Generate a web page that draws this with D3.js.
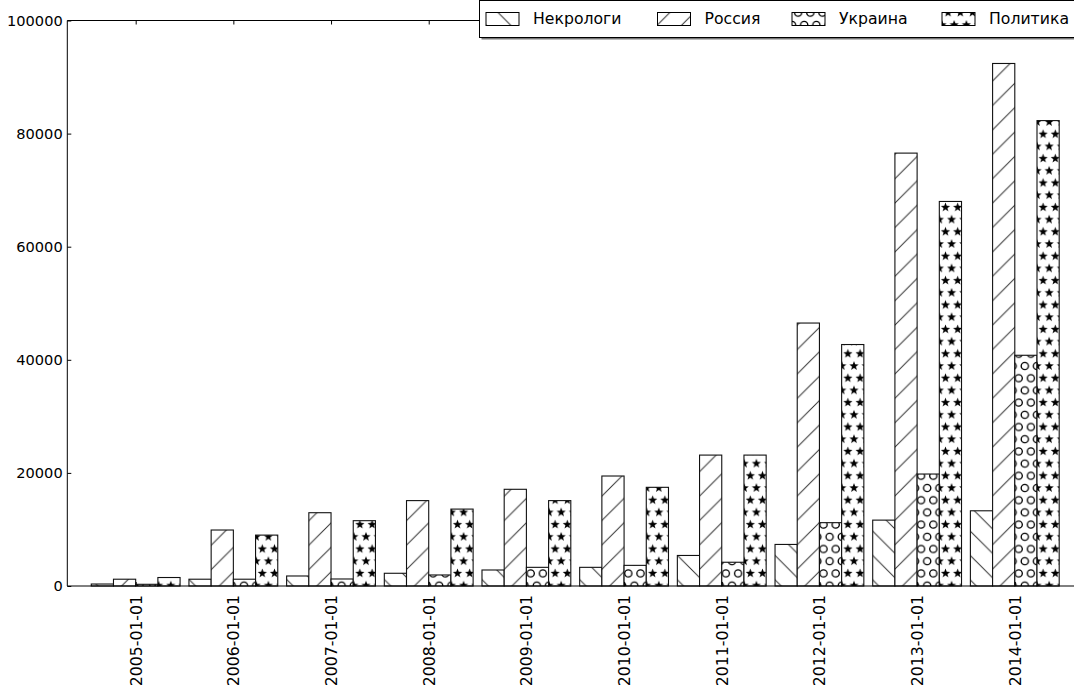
<!DOCTYPE html>
<html>
<head>
<meta charset="utf-8">
<script src="https://cdn.jsdelivr.net/npm/d3@7"></script>
<style>
  html, body { margin: 0; padding: 0; background: #fff; }
  svg { display: block; font-family: "DejaVu Sans", sans-serif; }
</style>
</head>
<body>
<svg id="chart" width="1074" height="691"></svg>
<script>
// Yearly article counts per tag
const years = ["2005-01-01", "2006-01-01", "2007-01-01", "2008-01-01", "2009-01-01",
               "2010-01-01", "2011-01-01", "2012-01-01", "2013-01-01", "2014-01-01"];
const seriesNames = ["Некрологи", "Россия", "Украина", "Политика"];
const obituaries = [350, 1200, 1770, 2250, 2830, 3300, 5400, 7350, 11650, 13300];
const russia     = [1200, 9900, 12960, 15100, 17100, 19450, 23150, 46500, 76550, 92400];
const ukraine    = [300, 1200, 1240, 1950, 3300, 3650, 4200, 11200, 19800, 40800];
const politics   = [1500, 9000, 11550, 13600, 15100, 17450, 23150, 42700, 68000, 82300];
const yTicks = [0, 20000, 40000, 60000, 80000, 100000];

const seriesValues = [obituaries, russia, ukraine, politics];
const seriesFill = ["url(#hatch-back)", "url(#hatch-fwd)", "url(#hatch-circles)", "url(#hatch-stars)"];

const svg = d3.select("#chart");

// plot area
const plotLeft = 67.3, plotTop = 20.5, plotBottom = 586;
const x = d3.scaleLinear().domain([-0.7, 9.7]).range([plotLeft, plotLeft + 10.4 * 97.68]);
const y = d3.scaleLinear().domain([0, 100000]).range([plotBottom, plotTop]);
const barW = 0.2273; // in category units

// ---- hatch patterns ----
const defs = svg.append("defs");
const T = 24.4;
function linePattern(id, d) {
  const p = defs.append("pattern").attr("id", id)
    .attr("patternUnits", "userSpaceOnUse").attr("width", T).attr("height", T);
  p.append("rect").attr("width", T).attr("height", T).attr("fill", "#fff");
  p.append("path").attr("d", d).attr("stroke", "#333").attr("stroke-width", 1).attr("fill", "none");
}
linePattern("hatch-fwd", `M0,${T} L${T},0 M-6,6 L6,-6 M${T - 6},${T + 6} L${T + 6},${T - 6}`);
linePattern("hatch-back", `M0,0 L${T},${T} M-6,${T - 6} L6,${T + 6} M${T - 6},-6 L${T + 6},6`);

const cw = 12.2, ch = 24.4;
const spots = [[0, 0], [cw, 0], [0, ch], [cw, ch], [cw / 2, ch / 2]];
const pc = defs.append("pattern").attr("id", "hatch-circles")
  .attr("patternUnits", "userSpaceOnUse").attr("width", cw).attr("height", ch);
pc.append("rect").attr("width", cw).attr("height", ch).attr("fill", "#fff");
pc.selectAll("circle").data(spots).join("circle")
  .attr("cx", d => d[0]).attr("cy", d => d[1]).attr("r", 3.6)
  .attr("fill", "none").attr("stroke", "#000").attr("stroke-width", 1.3);

function starPath(ro, ri) {
  const pts = [];
  for (let i = 0; i < 10; i++) {
    const r = i % 2 === 0 ? ro : ri;
    const a = -Math.PI / 2 + i * Math.PI / 5;
    pts.push([r * Math.cos(a), r * Math.sin(a)]);
  }
  return "M" + pts.map(p => p[0].toFixed(2) + "," + p[1].toFixed(2)).join("L") + "Z";
}
const ps = defs.append("pattern").attr("id", "hatch-stars")
  .attr("patternUnits", "userSpaceOnUse").attr("width", cw).attr("height", ch);
ps.append("rect").attr("width", cw).attr("height", ch).attr("fill", "#fff");
ps.selectAll("path").data(spots).join("path")
  .attr("transform", d => `translate(${d[0]},${d[1]})`)
  .attr("d", starPath(4.8, 2.0)).attr("fill", "#000");

// ---- bars ----
const barsG = svg.append("g");
seriesValues.forEach((vals, s) => {
  barsG.append("g").selectAll("rect").data(vals).join("rect")
    .attr("x", (d, i) => x(i + (s - 2) * barW))
    .attr("width", x(barW) - x(0))
    .attr("y", d => y(d))
    .attr("height", d => y(0) - y(d))
    .attr("fill", seriesFill[s])
    .attr("stroke", "#111").attr("stroke-width", 1.1);
});

// ---- axes ----
const yAxis = d3.axisLeft(y).tickValues(yTicks).tickSize(-4).tickPadding(4.6).tickFormat(d3.format("d"));
const gy = svg.append("g").attr("transform", `translate(${plotLeft},0)`).call(yAxis);
gy.select(".domain").remove();
gy.selectAll("line").attr("stroke", "#000");
gy.selectAll("text").attr("font-size", "14.6px").attr("fill", "#000")
  .attr("font-family", "DejaVu Sans");

const xAxis = d3.axisBottom(x).tickValues(d3.range(years.length)).tickFormat(i => years[i])
  .tickSize(-4).tickPadding(9);
const gx = svg.append("g").attr("transform", `translate(0,${plotBottom})`).call(xAxis);
gx.select(".domain").remove();
gx.selectAll("line").attr("stroke", "#000");
gx.selectAll("text")
  .attr("font-size", "15.7px").attr("fill", "#000").attr("font-family", "DejaVu Sans")
  .attr("transform", "rotate(-90)")
  .attr("text-anchor", "end")
  .attr("x", -9).attr("y", 0).attr("dy", "0.35em");

const xTop = d3.axisTop(x).tickValues(d3.range(years.length)).tickFormat("").tickSize(-4);
const gxt = svg.append("g").attr("transform", `translate(0,${plotTop})`).call(xTop);
gxt.select(".domain").remove();
gxt.selectAll("line").attr("stroke", "#000");

// spines
const plotRight = x.range()[1];
svg.append("path")
  .attr("d", `M${plotLeft},${plotBottom} L${plotLeft},${plotTop} L${plotRight},${plotTop}`)
  .attr("fill", "none").attr("stroke", "#000").attr("stroke-width", 1);
svg.append("line").attr("x1", plotLeft).attr("x2", plotRight).attr("y1", plotBottom).attr("y2", plotBottom)
  .attr("stroke", "#000").attr("stroke-width", 1);

// ---- legend ----
const lg = svg.append("g").attr("transform", "translate(479.5,0.5)");
lg.append("rect").attr("x", 2).attr("y", 2).attr("width", 620).attr("height", 37).attr("fill", "#777");
lg.append("rect").attr("width", 620).attr("height", 37)
  .attr("fill", "#fff").attr("stroke", "#000").attr("stroke-width", 1);
const legendX = [6.5, 178, 312.5, 462.5];
const items = lg.selectAll("g.item").data(seriesNames).join("g")
  .attr("class", "item")
  .attr("transform", (d, i) => `translate(${legendX[i]},0)`);
items.append("rect").attr("x", 0).attr("y", 12).attr("width", 33).attr("height", 13)
  .attr("fill", (d, i) => seriesFill[i]).attr("stroke", "#000").attr("stroke-width", 1);
items.append("text").attr("x", 47).attr("y", 18.5).attr("dy", "0.35em")
  .attr("font-size", "15.7px").attr("fill", "#000").text(d => d);
</script>
</body>
</html>
